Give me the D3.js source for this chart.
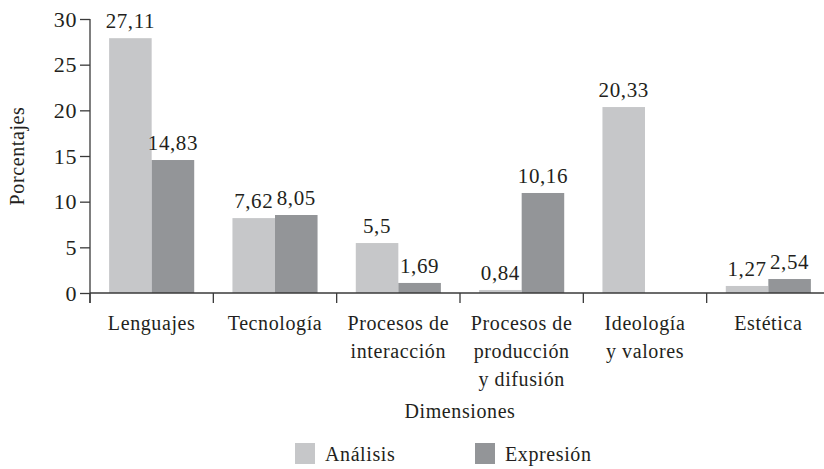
<!DOCTYPE html>
<html>
<head>
<meta charset="utf-8">
<script src="https://cdn.jsdelivr.net/npm/d3@7"></script>
<style>
body { margin: 0; background: #fff; }
text { font-family: "Liberation Serif", "Times New Roman", serif; fill: #231f20; }
</style>
</head>
<body>
<div id="chart"></div>
<script>
// data
var categorias = [["Lenguajes"], ["Tecnología"], ["Procesos de", "interacción"], ["Procesos de", "producción", "y difusión"], ["Ideología", "y valores"], ["Estética"]];
var series = ["Análisis", "Expresión"];
var etiquetasAnalisis = ["27,11", "7,62", "5,5", "0,84", "20,33", "1,27"];
var etiquetasExpresion = ["14,83", "8,05", "1,69", "10,16", "", "2,54"];
// bar heights as drawn in the figure
var analisis = [27.9, 8.2, 5.47, 0.33, 20.36, 0.77];
var expresion = [14.56, 8.54, 1.1, 10.95, 0, 1.53];
var yTicks = [0, 5, 10, 15, 20, 25, 30];

var width = 824, height = 469;
var mLeft = 90, mRight = 830, mTop = 19, mBottom = 293;
var colores = ["#c6c7c9", "#939598"];
var axisColor = "#3a3a3a";

var svg = d3.select("#chart").append("svg").attr("width", width).attr("height", height);

var x0 = d3.scaleBand().domain(d3.range(categorias.length)).range([mLeft, mRight])
	.paddingInner(0.31).paddingOuter(0.155);
var x1 = d3.scaleBand().domain(series).range([0, x0.bandwidth()]);
var y = d3.scaleLinear().domain([0, 30]).range([mBottom, mTop]);

var filas = categorias.map(function(c, i) {
	return [
		{ s: series[0], v: analisis[i], t: etiquetasAnalisis[i] },
		{ s: series[1], v: expresion[i], t: etiquetasExpresion[i] }
	];
});

var g = svg.selectAll(".grupo").data(filas).enter().append("g")
	.attr("class", "grupo")
	.attr("transform", function(d, i) { return "translate(" + x0(i) + ",0)"; });

g.selectAll("rect").data(function(d) { return d; }).enter().append("rect")
	.attr("x", function(d) { return x1(d.s); })
	.attr("y", function(d) { return y(d.v); })
	.attr("width", x1.bandwidth())
	.attr("height", function(d) { return mBottom - y(d.v); })
	.attr("fill", function(d, i) { return colores[i]; });

g.selectAll(".valor").data(function(d) { return d; }).enter().append("text")
	.attr("class", "valor")
	.attr("x", function(d) { return x1(d.s) + x1.bandwidth() / 2; })
	.attr("y", function(d) { return y(d.v) - 10; })
	.attr("text-anchor", "middle")
	.style("font-size", "21px")
	.style("letter-spacing", "0.6px")
	.text(function(d) { return d.t; });

// y axis
var yAxis = svg.append("g").attr("transform", "translate(" + mLeft + ",0)")
	.call(d3.axisLeft(y).tickValues(yTicks).tickSize(10).tickPadding(3));
yAxis.select(".domain").attr("stroke", axisColor).attr("stroke-width", 1.3)
	.attr("d", "M0," + mTop + "V" + (mBottom + 10));
yAxis.selectAll(".tick line").attr("stroke", axisColor).attr("stroke-width", 1.3);
yAxis.selectAll(".tick text").style("font-size", "22px").style("font-family", "Liberation Serif")
	.style("letter-spacing", "0.6px").attr("fill", "#231f20");

// x axis
var xAxis = svg.append("g").attr("transform", "translate(0," + mBottom + ")");
xAxis.append("line").attr("x1", mLeft).attr("x2", mRight).attr("y1", 0).attr("y2", 0)
	.attr("stroke", axisColor).attr("stroke-width", 1.3);
xAxis.selectAll(".sep").data(d3.range(categorias.length + 1)).enter().append("line")
	.attr("class", "sep")
	.attr("x1", function(i) { return mLeft + i * x0.step(); })
	.attr("x2", function(i) { return mLeft + i * x0.step(); })
	.attr("y1", 0).attr("y2", 10)
	.attr("stroke", axisColor).attr("stroke-width", 1.3);

var etq = xAxis.selectAll(".cat").data(categorias).enter().append("text")
	.attr("class", "cat")
	.attr("text-anchor", "middle")
	.attr("transform", function(d, i) { return "translate(" + (x0(i) + x0.bandwidth() / 2) + ",0)"; })
	.style("font-size", "20px")
	.style("letter-spacing", "0.6px");
etq.selectAll("tspan").data(function(d) { return d; }).enter().append("tspan")
	.attr("x", 0)
	.attr("y", function(d, j) { return 37 + j * 28; })
	.text(function(d) { return d; });

// axis titles
svg.append("text").attr("x", (mLeft + mRight) / 2).attr("y", 418)
	.attr("text-anchor", "middle").style("font-size", "20px").style("letter-spacing", "0.6px")
	.text("Dimensiones");
svg.append("text").attr("transform", "translate(24," + 156 + ") rotate(-90)")
	.attr("text-anchor", "middle").style("font-size", "20px").style("letter-spacing", "0.6px")
	.text("Porcentajes");

// legend
var leyX = [295, 475];
var ley = svg.selectAll(".ley").data(series).enter().append("g")
	.attr("class", "ley")
	.attr("transform", function(d, i) { return "translate(" + leyX[i] + ",443)"; });
ley.append("rect").attr("width", 20).attr("height", 21)
	.attr("fill", function(d, i) { return colores[i]; });
ley.append("text").attr("x", 30).attr("y", 18)
	.style("font-size", "20px").style("letter-spacing", "0.6px")
	.text(function(d) { return d; });
</script>
</body>
</html>
